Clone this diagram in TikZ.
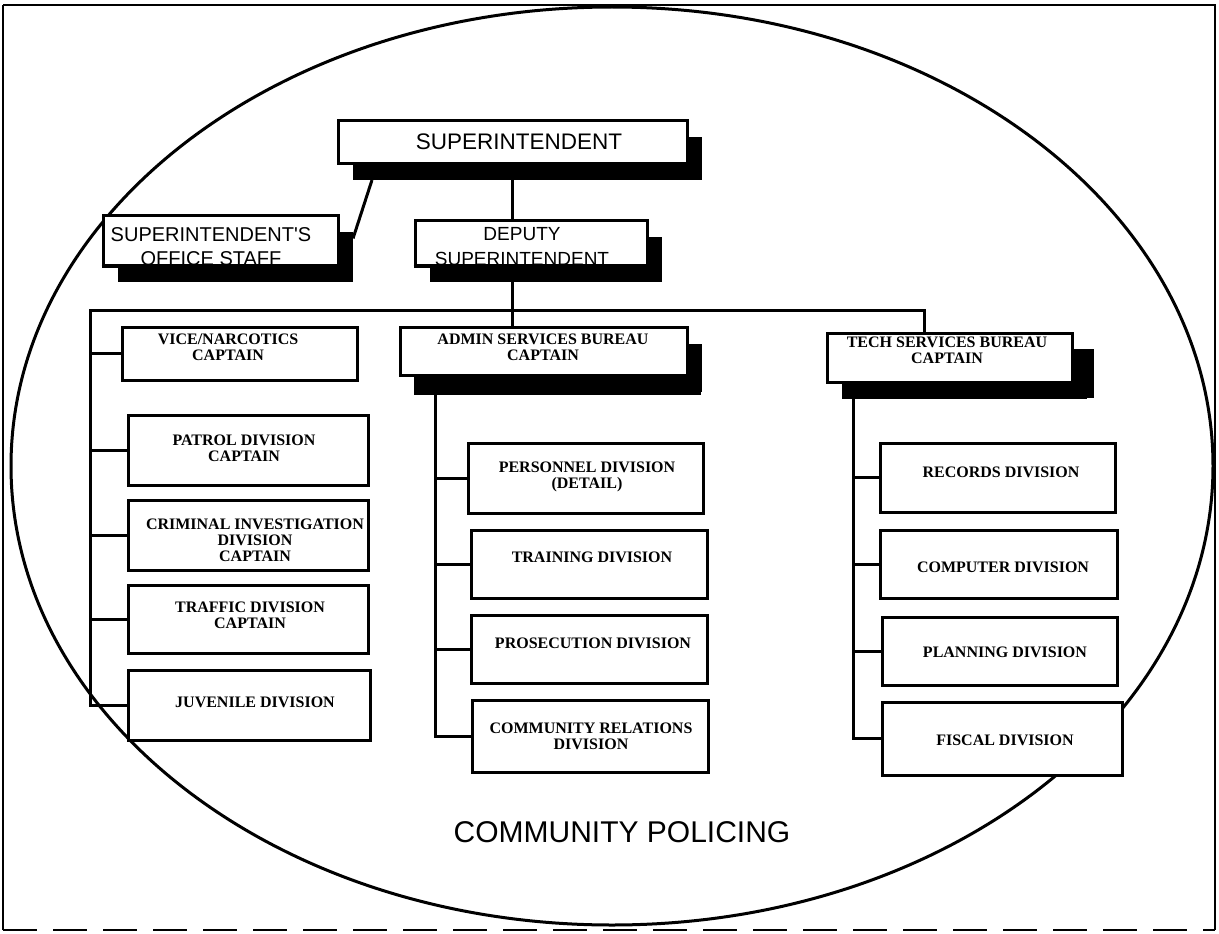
\documentclass[tikz,border=0pt]{standalone}
\usepackage{fontspec}
\setmainfont{Liberation Serif}
\newfontfamily\plotfont{Liberation Sans}
\usetikzlibrary{shadows}

\tikzset{
  orgbox/.style={draw, fill=white, line width=3pt, inner sep=0pt},
  shadowbox/.style={orgbox, general shadow={fill=black, shadow xshift=15pt, shadow yshift=-17pt}},
  divbox/.style={orgbox, minimum width=236pt, minimum height=69pt},
  plottext/.style={font=\plotfont\fontsize{20}{24}\selectfont, align=center, inner sep=0pt},
  divtext/.style={font=\bfseries\fontsize{16}{16}\selectfont, align=center, inner sep=0pt},
  link/.style={line width=3pt, line cap=rect},
}

\begin{document}
\begin{tikzpicture}[x=1pt,y=-1pt]
	% page, frame and the community policing ellipse
	\path[use as bounding box] (0,0) rectangle (1219,934);
	\fill[white] (0,0) rectangle (1219,934);
	\draw[line width=1.4pt] (3,930) -- (3,5);
	\draw[line width=2.4pt] (3,5) -- (1215,5) -- (1215,930);
	\draw[line width=1.8pt, dash pattern=on 34pt off 16pt] (3,930) -- (1215,930);
	\draw[line width=3pt] (612,466) ellipse [x radius=601, y radius=459];
	\node[font=\plotfont\fontsize{30}{32}\selectfont, inner sep=0pt] (cp) at (622,832) {COMMUNITY POLICING};

	% command staff
	\node[shadowbox, minimum width=349pt, minimum height=43pt] (sup) at (512.5,141.5) {};
	\node[plottext, font=\plotfont\fontsize{22.5}{24}\selectfont] (sup-t) at (519,142) {SUPERINTENDENT};
	\node[shadowbox, minimum width=235pt, minimum height=50pt] (staff) at (220.5,240) {};
	\node[plottext] (staff-t) at (211,247) {SUPERINTENDENT'S\\OFFICE STAFF};
	\draw[line width=3pt] (staff.south west) -- (staff.south east);
	\node[shadowbox, minimum width=232pt, minimum height=45pt] (dep) at (531,242.5) {};
	\node[plottext, font=\plotfont\fontsize{19}{25}\selectfont] (dep-t) at (522,247) {DEPUTY\\SUPERINTENDENT};
	\draw[line width=3pt] (dep.south west) -- (dep.south east);

	% captains
	\node[orgbox, minimum width=235pt, minimum height=53pt] (vice) at (239.5,353.5) {};
	\node[divtext] (vice-t) at (228,347.5) {VICE/NARCOTICS\\CAPTAIN};
	\node[shadowbox, minimum width=287pt, minimum height=48pt, general shadow={fill=black, shadow xshift=14pt, shadow yshift=-20pt}] (admin) at (543.5,351) {};
	\node[divtext] (admin-t) at (543,347.5) {ADMIN SERVICES BUREAU\\CAPTAIN};
	\node[shadowbox, minimum width=245pt, minimum height=49pt, general shadow={fill=black, shadow xshift=22pt, shadow yshift=-16pt}] (tech) at (949.5,357.5) {};
	\node[divtext] (tech-t) at (947,350) {TECH SERVICES BUREAU\\CAPTAIN};

	% left column
	\node[divbox, minimum width=240pt, minimum height=70pt] (patrol) at (248,450) {};
	\node[divtext] (patrol-t) at (244,448) {PATROL DIVISION\\CAPTAIN};
	\node[divbox, minimum width=240pt, minimum height=70pt] (crim) at (248,535) {};
	\node[divtext] (crim-t) at (255,540) {CRIMINAL INVESTIGATION\\DIVISION\\CAPTAIN};
	\node[divbox, minimum width=240pt, minimum height=68pt] (traffic) at (248,619) {};
	\node[divtext] (traffic-t) at (250,615) {TRAFFIC DIVISION\\CAPTAIN};
	\node[divbox, minimum width=242pt, minimum height=70pt] (juv) at (249,705) {};
	\node[divtext] (juv-t) at (255,702) {JUVENILE DIVISION};

	% admin services column
	\node[divbox, minimum width=235pt, minimum height=70pt] (pers) at (585.5,478) {};
	\node[divtext] (pers-t) at (587,477) {PERSONNEL DIVISION\\(DETAIL)};
	\node[divbox, minimum height=68pt] (train) at (589.5,564) {};
	\node[divtext] (train-t) at (592,557) {TRAINING DIVISION};
	\node[divbox, minimum height=68pt] (pros) at (589.5,649) {};
	\node[divtext] (pros-t) at (593,643) {PROSECUTION DIVISION};
	\node[divbox, minimum height=72pt] (comm) at (590,736) {};
	\node[divtext] (comm-t) at (591,736) {COMMUNITY RELATIONS\\DIVISION};

	% tech services column
	\node[divbox, minimum width=235pt] (rec) at (997.5,477.5) {};
	\node[divtext] (rec-t) at (1001,472) {RECORDS DIVISION};
	\node[divbox, minimum width=237pt, minimum height=68pt] (comp) at (998.5,564) {};
	\node[divtext] (comp-t) at (1003,567) {COMPUTER DIVISION};
	\node[divbox, minimum width=235pt, minimum height=68pt] (plan) at (999.5,651) {};
	\node[divtext] (plan-t) at (1005,652) {PLANNING DIVISION};
	\node[divbox, minimum width=240pt, minimum height=73pt] (fisc) at (1002,738.5) {};
	\node[divtext] (fisc-t) at (1005,740) {FISCAL DIVISION};

	% chain of command
	\draw[link] (sup.south) -- (sup.south |- dep.north);
	\draw[link] ([shift={(35,17)}]sup.south west) -- ([shift={(14,-3)}]staff.east);
	\draw[link] (sup.south |- dep.south) -- (sup.south |- admin.north);

	\coordinate (busL) at (90,310);
	\coordinate (busR) at (924,310);
	\draw[link] (busL |- juv.west) -- (busL) -- (busR) -- (busR |- tech.north);
	\foreach \unit in {vice,patrol,crim,traffic,juv}
		\draw[link] (busL |- \unit.west) -- (\unit.west);

	\coordinate (admT) at (435,395);
	\draw[link] (admT) -- (admT |- comm.west);
	\foreach \unit in {pers,train,pros,comm}
		\draw[link] (admT |- \unit.west) -- (\unit.west);

	\coordinate (techT) at (853,398);
	\draw[link] (techT) -- (techT |- fisc.west);
	\foreach \unit in {rec,comp,plan,fisc}
		\draw[link] (techT |- \unit.west) -- (\unit.west);
\end{tikzpicture}
\end{document}
